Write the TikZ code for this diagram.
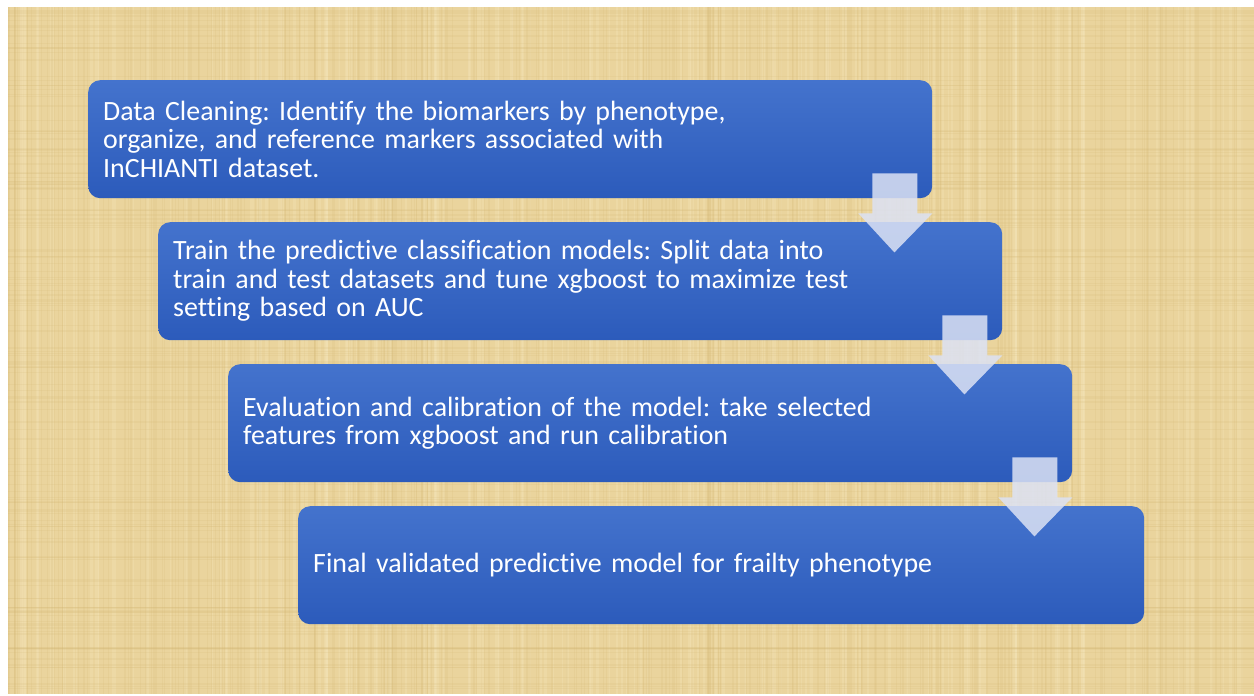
\documentclass[tikz,border=0pt]{standalone}
\usepackage{fontspec}
\setmainfont[Ligatures={NoCommon}]{Carlito}
\frenchspacing
\definecolor{parch}{HTML}{EAD49D}
\definecolor{parchdark}{HTML}{D2B673}
\definecolor{parchlight}{HTML}{F6E8C0}
\definecolor{boxtop}{HTML}{4473CD}
\definecolor{boxbot}{HTML}{2C5BBB}
\definecolor{arrowc}{HTML}{DCE2F4}
\begin{document}
\begin{tikzpicture}[x=1pt,y=-1pt,
  stepbox/.style={rounded corners=12pt, minimum width=844pt, minimum height=118pt,
    text width=814pt, inner xsep=15pt, inner ysep=0pt, align=left, text=white,
    font=\fontsize{27.9}{28.5}\selectfont, top color=boxtop, bottom color=boxbot,
    anchor=north west},
  blockarrow/.style={fill=arrowc, fill opacity=0.85}]
\useasboundingbox (0,0) rectangle (1254,696);
\fill[white] (0,0) rectangle (1254,696);
\fill[parch] (8,7) rectangle (1254,694);
\begin{scope}
\clip (8,7) rectangle (1254,694);
\pgfmathsetseed{11}
\foreach \i in {1,...,300}{
  \pgfmathsetmacro\xx{8+rnd*1246}
  \pgfmathsetmacro\ww{0.4+rnd*1.6}
  \draw[parchdark, opacity=0.15, line width=\ww pt] (\xx,7) -- (\xx,694);
}
\foreach \i in {1,...,150}{
  \pgfmathsetmacro\xx{8+rnd*1246}
  \pgfmathsetmacro\ww{1+rnd*3}
  \draw[parchlight, opacity=0.25, line width=\ww pt] (\xx,7) -- (\xx,694);
}
\foreach \i in {1,...,160}{
  \pgfmathsetmacro\yy{7+rnd*687}
  \pgfmathsetmacro\ww{0.4+rnd*1.4}
  \draw[parchdark, opacity=0.15, line width=\ww pt] (8,\yy) -- (1254,\yy);
}
\end{scope}

\node[stepbox] (b1) at (88,80) {Data Cleaning: Identify the biomarkers by phenotype,\\organize, and reference markers associated with\\InCHIANTI dataset.};
\node[stepbox] (b2) at (158,222) {Train the predictive classification models: Split data into\\train and test datasets and tune xgboost to maximize test\\setting based on AUC};
\node[stepbox] (b3) at (228,364) {Evaluation and calibration of the model: take selected\\features from xgboost and run calibration};
\node[stepbox, minimum width=846pt, text width=816pt] (b4) at (298,506) {Final validated predictive model for frailty phenotype};

\foreach \b in {b1,b2,b3}{
  \fill[blockarrow] ([shift={(-60,-25)}]\b.south east) -- ([shift={(-60,15)}]\b.south east)
    -- ([shift={(-74,15)}]\b.south east) -- ([shift={(-38,54)}]\b.south east)
    -- ([shift={(0,15)}]\b.south east) -- ([shift={(-15,15)}]\b.south east)
    -- ([shift={(-15,-25)}]\b.south east) -- cycle;
}
\end{tikzpicture}
\end{document}
